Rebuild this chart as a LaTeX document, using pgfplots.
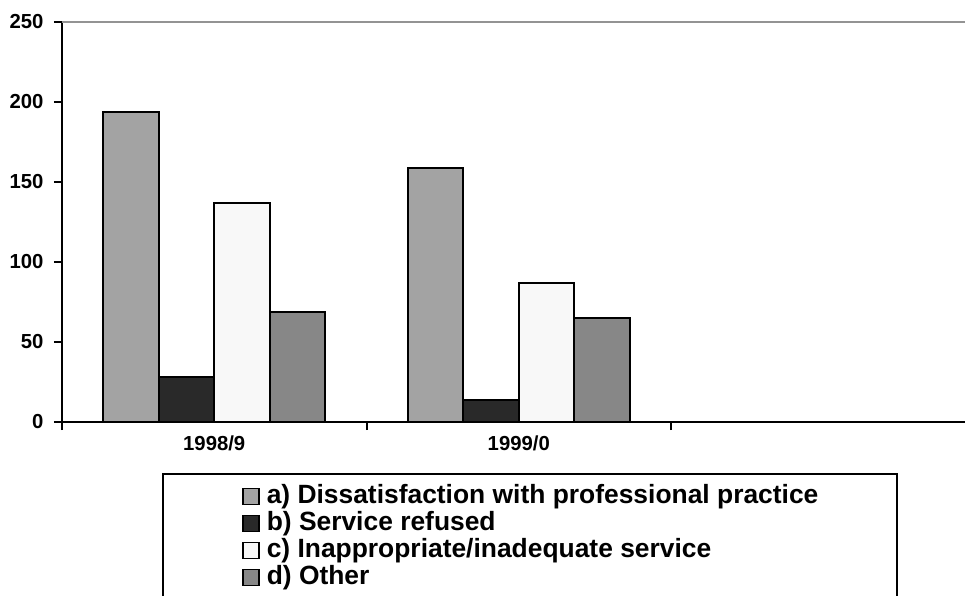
\documentclass[border=0pt]{standalone}
\usepackage{fontspec}
\setmainfont{Liberation Sans}
\usepackage{pgfplots}
\pgfplotsset{compat=1.18}
\definecolor{ca}{HTML}{A3A3A3}
\definecolor{cb}{HTML}{292929}
\definecolor{cc}{HTML}{F8F8F8}
\definecolor{cd}{HTML}{878787}
\begin{document}
\begin{tikzpicture}
\useasboundingbox (0,0) rectangle (965pt,596pt);
\begin{axis}[
 at={(62pt,174pt)}, anchor=south west,
 scale only axis, width=903pt, height=400pt,
 xmin=0, xmax=2.9655, ymin=0, ymax=250,
 axis x line*=bottom, axis y line*=left,
 axis line style={line width=2.2pt, black, -},
 xtick={0,1,2}, xticklabels={},
 extra x ticks={0.5,1.5}, extra x tick labels={1998/9,1999/0},
 extra x tick style={major tick length=0pt, xticklabel style={yshift=-10pt}},
 ytick={0,50,...,250},
 yticklabel style={xshift=-7pt},
 tick align=outside, major tick length=8pt,
 tick style={line width=2pt, black},
 tick label style={font=\fontsize{20.3}{24}\selectfont\bfseries},
 /pgf/number format/assume math mode=true,
 ybar, bar width=0.1823,
 legend cell align=left,
 legend style={at={(axis description cs:0.1107,-0.1275)}, anchor=north west,
   draw=black, line width=2pt, inner xsep=79pt, inner ysep=9.5pt,
   font=\fontsize{26.4}{27}\selectfont\bfseries, row sep=1pt, column sep=7pt,
   nodes={inner sep=0pt, text height=20pt, text depth=6pt}},
 legend image code/.code={\draw[#1, line width=1.8pt, draw=black] (0pt,-8pt) rectangle (16pt,8pt);},
]
\draw[color=gray!85, line width=2pt] (rel axis cs:0,1) -- (rel axis cs:1,1);
\addplot[fill=ca, draw=black, line width=2pt, bar shift=-0.27345] coordinates {(0.5,194) (1.5,159)};
\addplot[fill=cb, draw=black, line width=2pt, bar shift=-0.09115] coordinates {(0.5,28) (1.5,14)};
\addplot[fill=cc, draw=black, line width=2pt, bar shift=0.09115] coordinates {(0.5,137) (1.5,87)};
\addplot[fill=cd, draw=black, line width=2pt, bar shift=0.27345] coordinates {(0.5,69) (1.5,65)};
\legend{a) Dissatisfaction with professional practice, b) Service refused, c) Inappropriate/inadequate service, d) Other}
\end{axis}
\end{tikzpicture}
\end{document}
